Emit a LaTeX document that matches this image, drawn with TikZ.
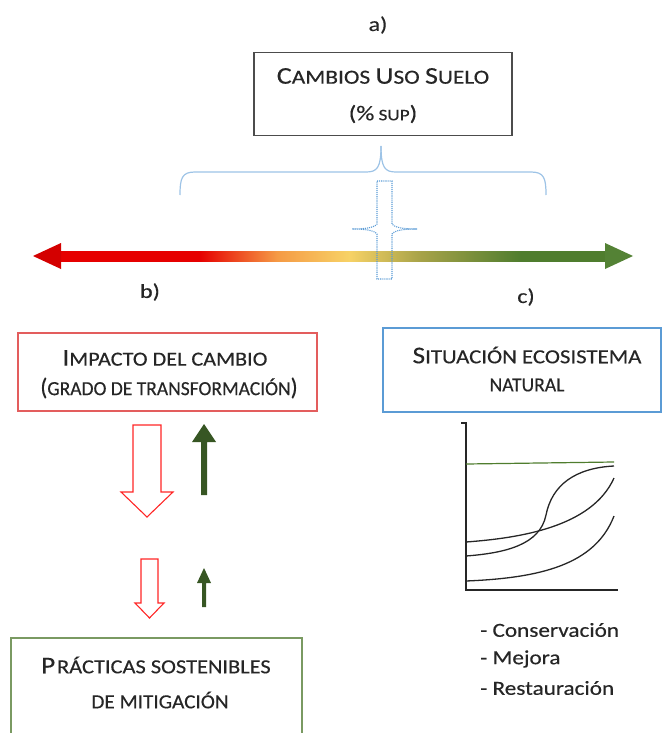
\documentclass[tikz,border=0pt]{standalone}
\usepackage{graphicx}
\usepackage{fontspec}
\setmainfont{Carlito}[FakeBold=0.35]
\definecolor{rd}{HTML}{E60000}
\definecolor{rdhead}{HTML}{D40000}
\definecolor{orng}{HTML}{F59A45}
\definecolor{ylw}{HTML}{F7D266}
\definecolor{olv}{HTML}{A6A248}
\definecolor{grn}{HTML}{4F7D2E}
\definecolor{grnhead}{HTML}{548235}
\definecolor{dgrn}{HTML}{375623}
\definecolor{boxred}{HTML}{E35D5D}
\definecolor{boxblue}{HTML}{5B9BD5}
\definecolor{boxgreen}{HTML}{7A9A62}
\definecolor{bracec}{HTML}{9DC3E6}
\definecolor{txt}{HTML}{262626}
\pgfdeclarehorizontalshading{rygshade}{100bp}{color(0bp)=(rd); color(25bp)=(rd); color(38bp)=(rd); color(45bp)=(orng); color(51.5bp)=(ylw); color(58bp)=(olv); color(67bp)=(grn); color(75bp)=(grn); color(100bp)=(grn)}
\newcommand\bigc[1]{{\fontsize{24}{28}\selectfont #1}}
\newcommand\smc[1]{{\fontsize{20}{24}\selectfont #1}}
\newcommand\hs[2]{\scalebox{#1}[1]{#2}}
\tikzset{
  lbl/.style={font=\fontsize{20}{24}\selectfont, text=txt, inner sep=0pt},
  ttl/.style={text=txt, inner sep=0pt, anchor=center},
  boxnode/.style={draw, line width=1.3pt, inner sep=0pt},
  hollow/.style={draw=red!85!white, line width=1.1pt, fill=white, line join=miter},
  solidup/.style={fill=dgrn, draw=none},
  curve/.style={line width=1.3pt, black!85},
}
\begin{document}
\begin{tikzpicture}[x=1pt,y=-1pt]
\useasboundingbox (0,0) rectangle (663,733);
% labels
\node[lbl] (la) at (378,25) {\hs{1.2}{a)}};
\node[lbl] (lb) at (150,292) {\hs{1.2}{b)}};
\node[lbl] (lc) at (526,297) {\hs{1.2}{c)}};
% top box
\node[boxnode, draw=black!70, line width=1.6pt, minimum width=258pt, minimum height=83pt] (cus) at (383,94) {};
\node[ttl] (cus1) at (383,76) {\hs{1.17}{\bigc{C}\smc{AMBIOS }\bigc{U}\smc{SO }\bigc{S}\smc{UELO}}};
\node[ttl] (cus2) at (383,114) {\hs{1.2}{\fontsize{21}{25}\selectfont (\%\,{\fontsize{16}{19}\selectfont SUP})}};
% brace
\draw[bracec, line width=1.2pt] (180,195) .. controls (180,178) and (182,172) .. (195,172) -- (366,172) .. controls (377,172) and (381,168) .. (381,146);
\draw[bracec, line width=1.2pt] (546,195) .. controls (546,178) and (544,172) .. (531,172) -- (396,172) .. controls (385,172) and (381,168) .. (381,146);
% gradient bar
\shade[shading=rygshade] (55,251) rectangle (610,261);
\fill[rdhead] (33,256) -- (61,243) -- (61,269) -- cycle;
\fill[grnhead] (633,256) -- (605,243) -- (605,269) -- cycle;
% dotted cross
\draw[boxblue, densely dotted, line width=1.1pt] (377,181) -- (392,181) -- (392,224)
  .. controls (395,228) and (405,229) .. (417,229)
  .. controls (405,229) and (395,230) .. (392,234) -- (392,279) -- (377,279) -- (377,234)
  .. controls (374,230) and (364,229) .. (352,229)
  .. controls (364,229) and (374,228) .. (377,224) -- cycle;
% red box
\node[boxnode, draw=boxred, minimum width=299pt, minimum height=78pt] (imp) at (167.5,372) {};
\node[ttl] (imp1) at (165,358) {\hs{1.11}{\bigc{I}\smc{MPACTO DEL CAMBIO}}};
\node[ttl] (imp2) at (169,388) {\hs{0.975}{\bigc{(}\smc{GRADO DE TRANSFORMACIÓN}\bigc{)}}};
% blue box
\node[boxnode, draw=boxblue, minimum width=278pt, minimum height=84pt] (sit) at (522,370) {};
\node[ttl] (sit1) at (527,355) {\hs{1.14}{\bigc{S}\smc{ITUACIÓN ECOSISTEMA}}};
\node[ttl] (sit2) at (527,385) {\hs{0.98}{\smc{NATURAL}}};
% green box (cut by the lower edge)
\draw[boxgreen, line width=1.3pt] (11,734) -- (11,638) -- (302,638) -- (302,734);
\node[ttl] (pra1) at (156,665) {\hs{1.12}{\bigc{P}\,\smc{RÁCTICAS SOSTENIBLES}}};
\node[ttl] (pra2) at (160,700) {\hs{1.06}{\smc{DE MITIGACIÓN}}};
% hollow red arrows
\draw[hollow] (133,425) -- (161,425) -- (161,492) -- (173,492) -- (147,517) -- (121,492) -- (133,492) -- cycle;
\draw[hollow] (141,559) -- (158,559) -- (158,603) -- (164,603) -- (149.5,618) -- (135,603) -- (141,603) -- cycle;
% green up arrows
\fill[solidup] (201,495) -- (207,495) -- (207,442) -- (216,442) -- (204,424) -- (192,442) -- (201,442) -- cycle;
\fill[solidup] (202,607) -- (206,607) -- (206,583) -- (211,583) -- (204,568) -- (197,583) -- (202,583) -- cycle;
% graph
\draw[line width=1.6pt, black!85] (461,423) -- (466,423) -- (466,590) -- (618,590);
\draw[grn, line width=1.2pt] (466,464) -- (614,462);
\draw[curve] (466,556) .. controls (505,553) and (540,545) .. (546,515) .. controls (552,485) and (575,468) .. (614,466);
\draw[curve] (466,542) .. controls (520,538) and (592,527) .. (614,478);
\draw[curve] (466,581) .. controls (540,578) and (595,565) .. (614,516);
% list
\node[lbl, anchor=west] (l1) at (480,630) {\hs{1.16}{- Conservación}};
\node[lbl, anchor=west] (l2) at (480,659) {\hs{1.16}{- Mejora}};
\node[lbl, anchor=west] (l3) at (480,688) {\hs{1.16}{- Restauración}};
\end{tikzpicture}
\end{document}
